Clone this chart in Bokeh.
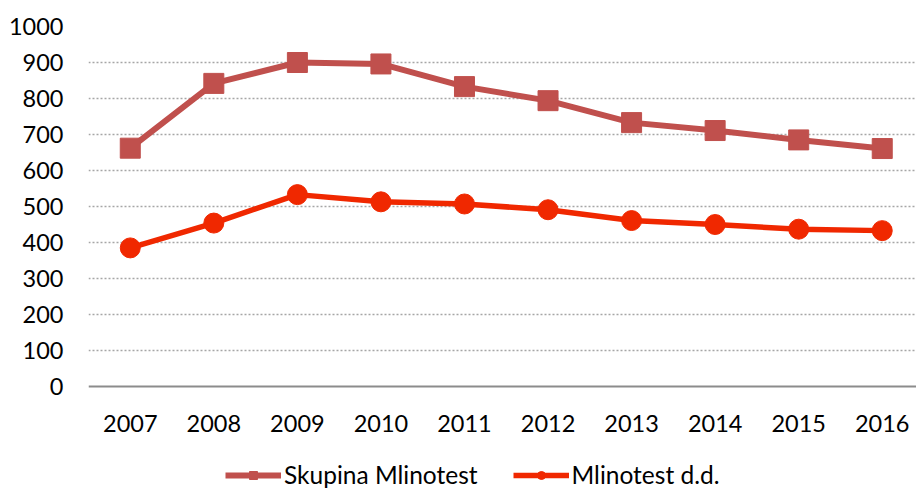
from bokeh.plotting import figure
from bokeh.models import Range1d, FixedTicker, Legend, LegendItem, Span
from bokeh.core.properties import value
from bokeh.embed import file_html
from bokeh.resources import INLINE

years = [2007, 2008, 2009, 2010, 2011, 2012, 2013, 2014, 2015, 2016]
year_labels = [str(y) for y in years]
skupina = [662, 842, 900, 896, 833, 794, 733, 711, 685, 661]
mlinotest = [385, 454, 533, 513, 507, 491, 461, 450, 437, 433]
y_ticks = [0, 100, 200, 300, 400, 500, 600, 700, 800, 900, 1000]
names = ["Skupina Mlinotest", "Mlinotest d.d."]

FONT = "Lato"
FS = "23.5px"

# frame extends below zero so the x labels and legend live inside the frame
p = figure(frame_width=828, frame_height=462, output_backend="svg",
           toolbar_location=None, x_axis_location=None,
           x_range=Range1d(2006.5, 2016.41), y_range=Range1d(-283.3, 1000),
           min_border_left=88, min_border_right=0, min_border_top=26,
           min_border_bottom=0, outline_line_color=None)

c1 = "#C0504D"
c2 = "#F02800"
l1 = p.line(years, skupina, line_color=c1, line_width=6, line_join="round")
m1 = p.scatter(years, skupina, marker="square", size=20, fill_color=c1, line_color=c1)
l2 = p.line(years, mlinotest, line_color=c2, line_width=5.5, line_join="round")
m2 = p.scatter(years, mlinotest, marker="circle", size=20, fill_color=c2, line_color=c2)

p.xgrid.grid_line_color = None
p.ygrid.ticker = FixedTicker(ticks=y_ticks[1:])
p.ygrid.grid_line_color = "#A6A6A6"
p.ygrid.grid_line_width = 1.5
p.ygrid.grid_line_dash = "2 2"

# category axis line at zero
p.add_layout(Span(location=0, dimension="width", line_color="#8C8C8C", line_width=2))

# x tick labels
p.text(x=years, y=[0] * len(years), text=year_labels, y_offset=37,
       text_align="center", text_baseline="middle",
       text_font=value(FONT), text_font_size=value(FS), text_color="#000000")

p.yaxis.ticker = FixedTicker(ticks=y_ticks)
p.yaxis.axis_line_color = None
p.yaxis.major_tick_line_color = None
p.yaxis.minor_tick_line_color = None
p.yaxis.major_tick_out = 0
p.yaxis.major_label_standoff = 25
p.yaxis.major_label_text_font = FONT
p.yaxis.major_label_text_font_size = FS
p.yaxis.major_label_text_color = "#000000"

legend = Legend(items=[LegendItem(label=names[0], renderers=[l1, m1]),
                       LegendItem(label=names[1], renderers=[l2, m2])],
                orientation="horizontal", location=(137, -1),
                label_text_font=FONT, label_text_font_size="24.5px",
                label_text_color="#000000",
                glyph_width=56, glyph_height=20, label_standoff=3, spacing=35,
                border_line_color=None, background_fill_alpha=0,
                margin=0, padding=0)
p.add_layout(legend)

open("out.html", "w").write(file_html(p, INLINE))
